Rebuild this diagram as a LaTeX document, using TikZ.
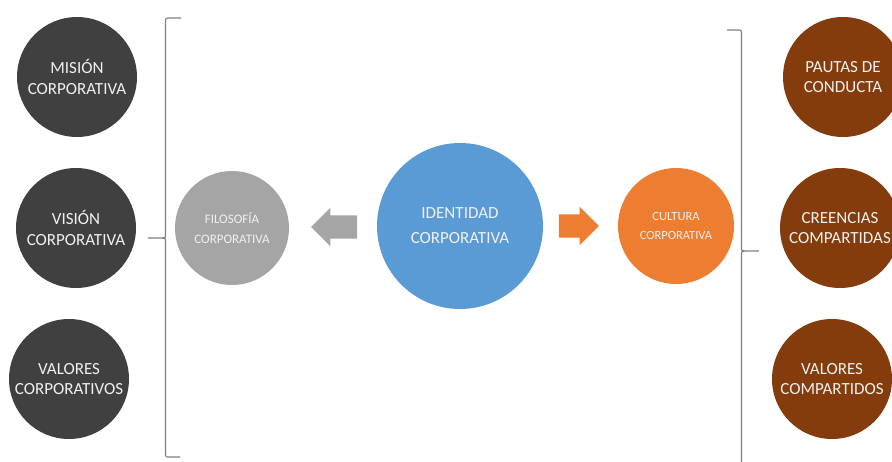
\documentclass[tikz,border=0pt]{standalone}
\usepackage{fontspec}
\setmainfont{Carlito}
\usetikzlibrary{shapes.arrows}
\definecolor{oscuro}{HTML}{404040}
\definecolor{grisfil}{HTML}{A5A5A5}
\definecolor{azulid}{HTML}{5B9BD5}
\definecolor{naranja}{HTML}{ED7D31}
\definecolor{marron}{HTML}{843C0C}
\definecolor{llave}{HTML}{7F7F7F}
\begin{document}
\begin{tikzpicture}[x=1pt, y=-1pt,
        every node/.style={circle, inner sep=0pt, align=center, text=white!94!black},
        grande/.style={font=\fontsize{17}{20.5}\selectfont},
        chico/.style={font=\fontsize{13}{19.5}\selectfont},
        izq/.style={grande, fill=oscuro, minimum size=120pt},
        der/.style={grande, fill=marron, minimum size=120pt},
        flecha/.style={single arrow, shape=single arrow, inner xsep=0pt, inner ysep=11.5pt,
            single arrow head extend=7.5pt, single arrow tip angle=90},
        corchete/.style={draw=llave, line width=1.1pt, rounded corners=2pt}]
    \useasboundingbox (0,0) rectangle (892,461);
    \clip (0,0) rectangle (892,461);
    % izquierda
    \node[izq] (mision) at (77,77) {MISIÓN\\CORPORATIVA};
    \node[izq] (vision) at (76,228) {VISIÓN\\CORPORATIVA};
    \node[izq] (valcorp) at (69,379) {VALORES\\CORPORATIVOS};
    % centro
    \node[chico, fill=grisfil, minimum size=114pt] (filosofia) at (232,228) {FILOSOFÍA\\CORPORATIVA};
    \node[fill=azulid, minimum size=166pt, font=\fontsize{17}{25}\selectfont] (identidad) at (460,226) {IDENTIDAD\\CORPORATIVA};
    \node[chico, fill=naranja, minimum size=116pt, font=\fontsize{12.5}{18.5}\selectfont] (cultura) at (676,226) {CULTURA\\CORPORATIVA};
    \node[flecha, fill=grisfil, minimum height=46pt, shape border rotate=180] (fizq) at (340,227) {};
    \node[flecha, fill=naranja, minimum height=40pt] (fder) at (573,226) {};
    % derecha
    \node[der] (pautas) at (843,77) {PAUTAS DE\\CONDUCTA};
    \node[der] (creencias) at (840,228) {CREENCIAS\\COMPARTIDAS};
    \node[der] (valcomp) at (832,379) {VALORES\\COMPARTIDOS};
    % llaves
    \coordinate (pizq) at (147,238);
    \coordinate (pder) at (760,251);
    \draw[corchete] (181,18) -- (165.5,18) -- (165.5,234) .. controls (165.5,238) .. (pizq)
        .. controls (165.5,238) .. (165.5,242) -- (165.5,457) -- (180,457);
    \draw[corchete] (727,30) -- (741.5,30) -- (741.5,247) .. controls (741.5,251) .. (pder)
        .. controls (741.5,251) .. (741.5,255) -- (741.5,470);
\end{tikzpicture}
\end{document}
